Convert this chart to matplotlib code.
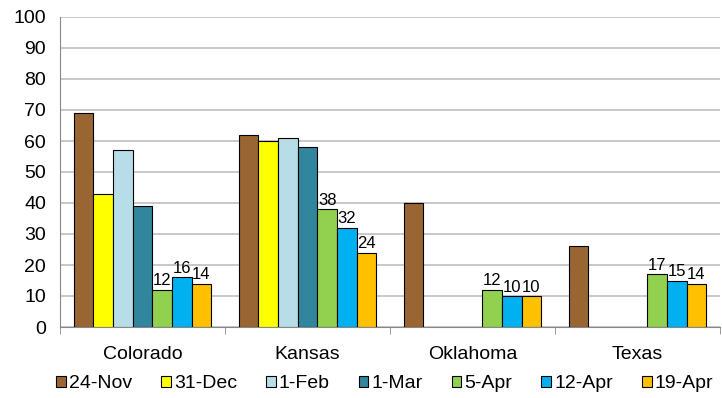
import numpy as np
import matplotlib.pyplot as plt

plt.rcParams['font.family'] = ['Liberation Sans', 'DejaVu Sans']

states = ['Colorado', 'Kansas', 'Oklahoma', 'Texas']
dates = ['24-Nov', '31-Dec', '1-Feb', '1-Mar', '5-Apr', '12-Apr', '19-Apr']
colores = ['#996633', '#FFFF00', '#B7DEE8', '#31859C', '#92D050', '#00B0F0', '#FFC000']

nov24 = [69, 62, 40, 26]
dec31 = [43, 60, np.nan, np.nan]
feb1 = [57, 61, np.nan, np.nan]
mar1 = [39, 58, np.nan, np.nan]
apr5 = [12, 38, 12, 17]
apr12 = [16, 32, 10, 15]
apr19 = [14, 24, 10, 14]
series = [nov24, dec31, feb1, mar1, apr5, apr12, apr19]
labeled = ['5-Apr', '12-Apr', '19-Apr']

fig = plt.figure(figsize=(7.22, 3.98), dpi=100)
ax = fig.add_axes([60/722, 71/398, 660/722, 310/398])

x = np.arange(len(states))
w = 0.119
for i, (vals, d, c) in enumerate(zip(series, dates, colores)):
    pos = x + (i - 3) * w
    bars = ax.bar(pos, vals, w, color=c, edgecolor='black', linewidth=0.8, label=d, zorder=3)
    if d in labeled:
        ax.bar_label(bars, labels=[f'{v:g}' for v in vals], fontsize=12, padding=1)

ax.set_xlim(-0.5, 3.5)
ax.set_ylim(0, 100)
ax.set_yticks(range(0, 101, 10))
ax.yaxis.grid(True, color='#BFBFBF', linewidth=1.2, zorder=0)
ax.tick_params(axis='y', length=0, labelsize=14, pad=10)
ax.set_xticks(x)
ax.set_xticklabels(states)
ax.tick_params(axis='x', length=0, labelsize=14, pad=14)
ax.set_xticks([-0.5, 0.5, 1.5, 2.5, 3.5], minor=True)
ax.tick_params(axis='x', which='minor', length=5, color='#888888')
for s in ['top', 'right']:
    ax.spines[s].set_visible(False)
ax.spines['left'].set_color('#888888')
ax.spines['bottom'].set_color('#888888')

ax.legend(loc='center', bbox_to_anchor=(0.492, -0.183), ncol=7, frameon=False,
          fontsize=14, handlelength=0.5, handleheight=0.5, handletextpad=0.15,
          columnspacing=1.5, borderaxespad=0, borderpad=0)

plt.savefig('out.png', dpi=100)
